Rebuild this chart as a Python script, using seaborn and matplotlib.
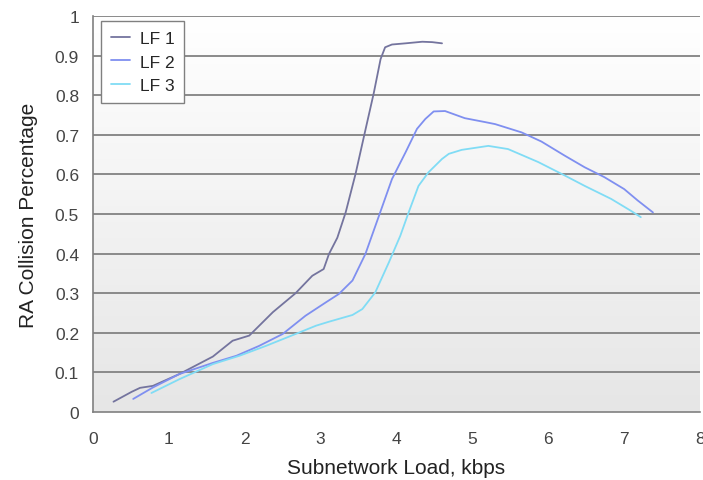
import numpy as np
import pandas as pd
import matplotlib
matplotlib.use("Agg")
import matplotlib.pyplot as plt
import seaborn as sns

# ---- data ----
lf1_x = [0.27, 0.51, 0.62, 0.79, 1.14, 1.58, 1.84, 2.06, 2.37, 2.67, 2.89, 3.04, 3.11, 3.22,
         3.33, 3.46, 3.59, 3.70, 3.79, 3.85, 3.94, 4.12, 4.34, 4.47, 4.60]
lf1_y = [0.026, 0.051, 0.061, 0.066, 0.096, 0.14, 0.18, 0.193, 0.252, 0.30, 0.344, 0.361, 0.399, 0.44,
         0.504, 0.601, 0.712, 0.805, 0.891, 0.921, 0.928, 0.931, 0.935, 0.934, 0.931]

lf2_x = [0.53, 0.79, 1.14, 1.58, 1.89, 2.19, 2.50, 2.80, 3.07, 3.24, 3.42, 3.59, 3.77, 3.94,
         4.12, 4.27, 4.38, 4.49, 4.64, 4.90, 5.17, 5.30, 5.65, 5.91, 6.22, 6.48, 6.74,
         7.00, 7.18, 7.38]
lf2_y = [0.033, 0.062, 0.096, 0.124, 0.142, 0.167, 0.197, 0.243, 0.277, 0.298, 0.332, 0.399, 0.496, 0.588,
         0.656, 0.715, 0.740, 0.759, 0.760, 0.742, 0.732, 0.727, 0.706, 0.683, 0.647, 0.618, 0.593,
         0.563, 0.534, 0.504]

lf3_x = [0.77, 1.14, 1.58, 1.93, 2.28, 2.67, 2.94, 3.11, 3.42, 3.55, 3.72, 3.90, 4.05, 4.16,
         4.29, 4.42, 4.60, 4.69, 4.86, 5.21, 5.47, 5.87, 6.22, 6.48, 6.83, 7.09, 7.22]
lf3_y = [0.048, 0.083, 0.121, 0.142, 0.167, 0.197, 0.218, 0.228, 0.245, 0.26, 0.302, 0.378, 0.445, 0.504,
         0.571, 0.605, 0.639, 0.652, 0.662, 0.672, 0.664, 0.631, 0.597, 0.571, 0.538, 0.508, 0.492]

series_names = ["LF 1", "LF 2", "LF 3"]
x_ticks = [0, 1, 2, 3, 4, 5, 6, 7, 8]
y_ticks = [0, 0.1, 0.2, 0.3, 0.4, 0.5, 0.6, 0.7, 0.8, 0.9, 1]
y_tick_labels = ["0", "0.1", "0.2", "0.3", "0.4", "0.5", "0.6", "0.7", "0.8", "0.9", "1"]

df = pd.concat([
    pd.DataFrame({"x": lf1_x, "y": lf1_y, "s": series_names[0]}),
    pd.DataFrame({"x": lf2_x, "y": lf2_y, "s": series_names[1]}),
    pd.DataFrame({"x": lf3_x, "y": lf3_y, "s": series_names[2]}),
], ignore_index=True)

sns.set_style("white")
plt.rcParams["font.family"] = ["Liberation Sans", "DejaVu Sans"]

fig = plt.figure(figsize=(7.03, 4.81), dpi=100)
ax = fig.add_axes([93 / 703, 1 - 413 / 481, 607 / 703, (413 - 17) / 481])

# gradient background
grad = np.linspace(1.0, 0.0, 256).reshape(-1, 1)
cmap = matplotlib.colors.LinearSegmentedColormap.from_list("bg", ["#e6e6e6", "#ffffff"])
ax.imshow(grad, extent=[0, 8, 0, 1], aspect="auto", cmap=cmap, origin="upper",
          zorder=0, vmin=0, vmax=1)

palette = {"LF 1": "#74749e", "LF 2": "#7f8ff0", "LF 3": "#80dcf5"}
sns.lineplot(data=df, x="x", y="y", hue="s", palette=palette, estimator=None,
             sort=False, linewidth=1.3, ax=ax, zorder=3)

ax.set_xlim(0, 8)
ax.set_ylim(0, 1)
ax.set_xticks(x_ticks)
ax.set_yticks(y_ticks)
ax.set_yticklabels(y_tick_labels)

for yv in y_ticks[1:]:
    ax.axhline(yv, color="#8a8a8a", linewidth=1.4, zorder=1)

for side in ["top", "right"]:
    ax.spines[side].set_visible(False)
for side in ["left", "bottom"]:
    ax.spines[side].set_color("#808080")
    ax.spines[side].set_linewidth(1.2)
    ax.spines[side].set_zorder(2)

ax.tick_params(axis="x", direction="out", length=5, color="#808080", width=1.2,
               labelsize=12.5, pad=9, labelcolor="#444444")
ax.tick_params(axis="y", direction="out", length=6, color="#808080", width=1.2,
               labelsize=12.5, pad=4, labelcolor="#444444")

ax.set_xlabel("Subnetwork Load, kbps", fontsize=15, color="#222222", labelpad=8)
ax.set_ylabel("RA Collision Percentage", fontsize=15, color="#222222", labelpad=12)

leg = ax.legend(loc="upper left", bbox_to_anchor=(8 / 607, 391 / 396), frameon=True,
                borderaxespad=0, fancybox=False, framealpha=1, edgecolor="#808080",
                facecolor="white", fontsize=12.5, handlelength=1.1, handletextpad=0.6,
                borderpad=0.55, labelspacing=0.5, title=None)
leg.get_frame().set_linewidth(1.0)
leg.set_zorder(5)

fig.savefig("out.png", dpi=100)
